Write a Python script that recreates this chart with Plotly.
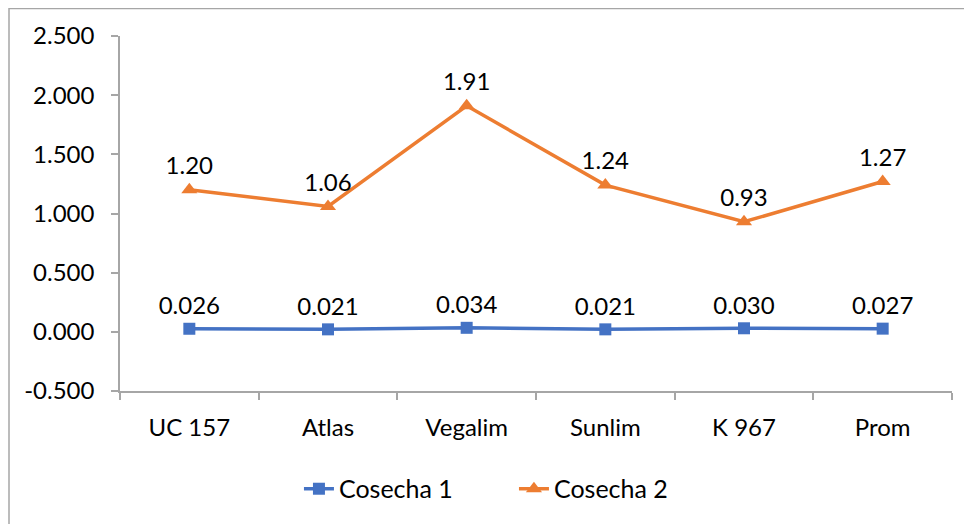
import plotly.graph_objects as go

categories = ["UC 157", "Atlas", "Vegalim", "Sunlim", "K 967", "Prom"]
cosecha1 = [0.026, 0.021, 0.034, 0.021, 0.030, 0.027]
cosecha2 = [1.20, 1.06, 1.91, 1.24, 0.93, 1.27]
y_ticks = [-0.5, 0.0, 0.5, 1.0, 1.5, 2.0, 2.5]
y_tick_text = [f"{v:.3f}" for v in y_ticks]

FONT = "Lato, Calibri, Carlito, sans-serif"
FS = 24
BLUE = "#4472C4"
ORANGE = "#ED7D31"

fig = go.Figure()
fig.add_trace(go.Scatter(
    x=categories, y=cosecha1, name="Cosecha 1", mode="lines+markers+text",
    line=dict(color=BLUE, width=3.5),
    marker=dict(symbol="square", size=12, color=BLUE),
    text=[f"{v:.3f}" for v in cosecha1], textposition="top center",
    textfont=dict(size=FS, color="black", family=FONT),
))
fig.add_trace(go.Scatter(
    x=categories, y=cosecha2, name="Cosecha 2", mode="lines+markers+text",
    line=dict(color=ORANGE, width=3.5),
    marker=dict(symbol="triangle-up", size=14, color=ORANGE),
    text=[f"{v:.2f}" for v in cosecha2], textposition="top center",
    textfont=dict(size=FS, color="black", family=FONT),
))

fig.update_layout(
    width=964, height=516,
    margin=dict(l=112, r=20, t=28, b=133, autoexpand=False),
    paper_bgcolor="white", plot_bgcolor="white",
    font=dict(family=FONT, size=FS, color="black"),
    showlegend=True,
    legend=dict(orientation="h", x=0.4735, xanchor="center", y=-0.276, yanchor="middle",
                font=dict(size=25, family=FONT), entrywidth=170, entrywidthmode="pixels",
                tracegroupgap=0),
    shapes=[dict(type="rect", xref="paper", yref="paper",
                 x0=-111/832, y0=-2, x1=2, y1=(355 + 27.5) / 355,
                 line=dict(color="#A6A6A6", width=1.5), fillcolor="rgba(0,0,0,0)", layer="below")],
)
fig.update_xaxes(
    type="category", range=[-0.5, 5.5], showgrid=False, automargin=False,
    showline=True, linecolor="#A6A6A6", linewidth=1.5,
    ticks="outside", tickson="boundaries", ticklen=7, tickcolor="#A6A6A6", tickwidth=1.5,
    ticklabelstandoff=14, zeroline=False,
)
fig.update_yaxes(
    range=[-0.5, 2.5], tickvals=y_ticks, ticktext=y_tick_text, showgrid=False, automargin=False,
    showline=True, linecolor="#A6A6A6", linewidth=1.5,
    ticks="outside", ticklen=7, tickcolor="#A6A6A6", tickwidth=1.5,
    ticklabelstandoff=12, zeroline=False,
)

fig.write_html("out.html")
